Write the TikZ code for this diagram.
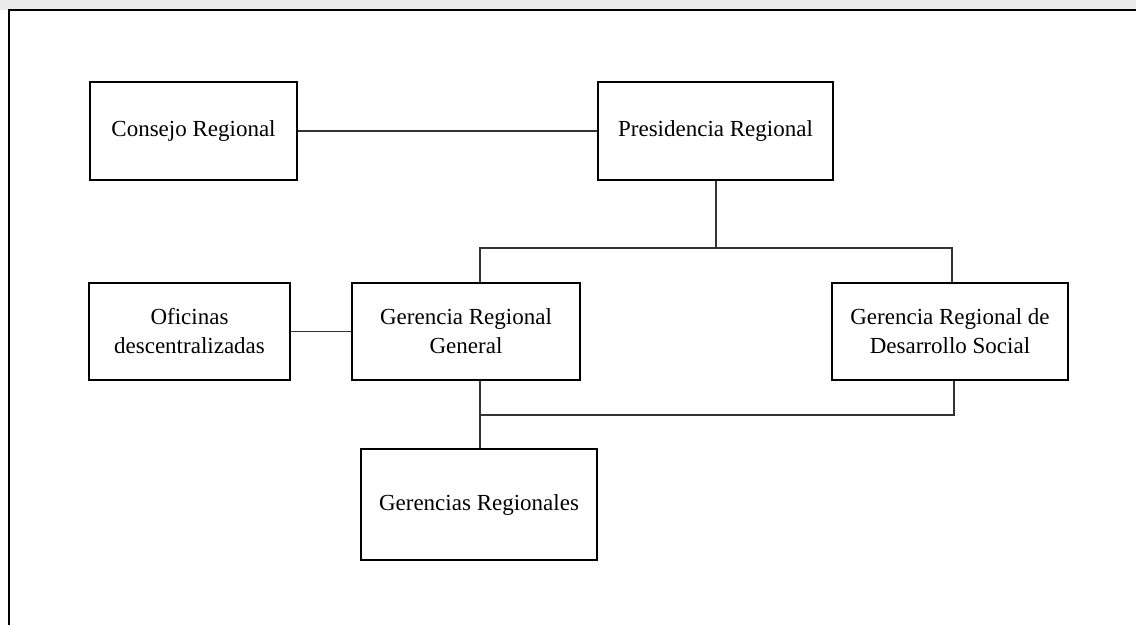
\documentclass[tikz,border=0pt]{standalone}
\usepackage{fontspec}
\setmainfont{Liberation Serif}
\begin{document}
\begin{tikzpicture}[x=1pt,y=-1pt,
  box/.style={draw=black,line width=2.8pt,minimum width=#1,align=center,font=\fontsize{23}{29}\selectfont,inner sep=0pt},
  box/.default=200pt,
  conn/.style={draw=black!80,line width=1.3pt}]
\useasboundingbox (0,0) rectangle (1136,625);
\fill[black!8] (0,0) rectangle (1136,10);
\draw[line width=2pt] (1136,10) -- (9,10) -- (9,625);
\node[box=207pt,minimum height=98pt] (cr) at (193.5,131) {Consejo Regional};
\node[box=235pt,minimum height=98pt] (pr) at (715.5,131) {Presidencia Regional};
\node[box=201pt,minimum height=97pt] (of) at (189.5,331.5) {Oficinas\\descentralizadas};
\node[box=228pt,minimum height=97pt] (grg) at (466,331.5) {Gerencia Regional\\General};
\node[box=236pt,minimum height=97pt] (grd) at (950,331.5) {Gerencia Regional de\\Desarrollo Social};
\node[box=236pt,minimum height=111pt] (gr) at (479,504.5) {Gerencias Regionales};
\coordinate (j1) at (716,248);
\coordinate (j2) at (480,415);
\draw[conn] (cr.east) -- (pr.west);
\draw[conn] (pr.south -| j1) -- (j1);
\draw[conn] (grg.north -| 480,0) |- (j1) -| (grd.north -| 952,0);
\draw[conn] (of.east) -- (grg.west);
\draw[conn] (grg.south -| j2) -- (gr.north -| j2);
\draw[conn] (j2) -| (grd.south -| 954,0);
\end{tikzpicture}
\end{document}
